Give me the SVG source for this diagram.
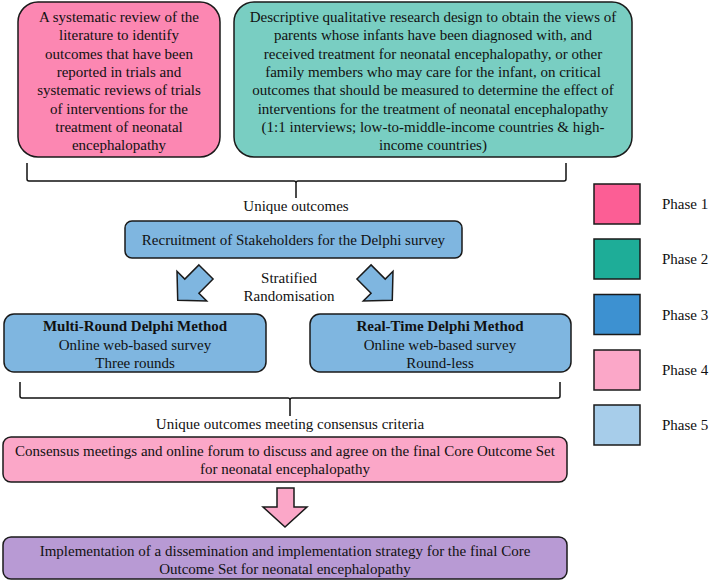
<svg xmlns="http://www.w3.org/2000/svg" width="709" height="581" viewBox="0 0 709 581">
<style>
text{font-family:"Liberation Serif","Times New Roman",serif;font-size:15px;fill:#111;text-anchor:middle}
.box{stroke:#1a1a1a;stroke-width:1.5}
.br{fill:none;stroke:#111;stroke-width:1.5;stroke-linejoin:round}
.leg{text-anchor:start}
.b{font-weight:bold}
</style>
<defs>
<polygon id="diag" points="-10,0 10,0 10,20 21,20 0,40 -21,20 -10,20" stroke="#1a1a1a" stroke-width="1.5" fill="#7FB6E0" stroke-linejoin="miter"/>
</defs>
<rect width="709" height="581" fill="#fff"/>

<g id="phase1-review">
<rect class="box" x="18" y="2" width="202" height="155" rx="20" fill="#FC87B2"/>
<text x="119" y="22">A systematic review of the</text>
<text x="119" y="40.3">literature to identify</text>
<text x="119" y="58.6">outcomes that have been</text>
<text x="119" y="77">reported in trials and</text>
<text x="119" y="95.3">systematic reviews of trials</text>
<text x="119" y="113.6">of interventions for the</text>
<text x="119" y="132">treatment of neonatal</text>
<text x="119" y="150.3">encephalopathy</text>
</g>

<g id="phase2-qualitative">
<rect class="box" x="234" y="2" width="398" height="155" rx="20" fill="#79CEC2"/>
<text x="433" y="22">Descriptive qualitative research design to obtain the views of</text>
<text x="433" y="40.3">parents whose infants have been diagnosed with, and</text>
<text x="433" y="58.6">received treatment for neonatal encephalopathy, or other</text>
<text x="433" y="77">family members who may care for the infant, on critical</text>
<text x="433" y="95.3">outcomes that should be measured to determine the effect of</text>
<text x="433" y="113.6">interventions for the treatment of neonatal encephalopathy</text>
<text x="433" y="132">(1:1 interviews; low-to-middle-income countries &amp; high-</text>
<text x="433" y="150.3">income countries)</text>
</g>

<g id="connectors">
<path class="br" d="M27,163 V179 Q27,181 29,181 H294 Q296,181 296,183 V198 M296,183 Q296,181 298,181 H564 Q566,181 566,179 V163"/>
<path class="br" d="M20,382 V396 Q20,398 22,398 H288 Q290,398 290,400 V416 M290,400 Q290,398 292,398 H558 Q560,398 560,396 V382"/>
<use href="#diag" transform="translate(206,272) rotate(45)"/>
<use href="#diag" transform="translate(364,272) rotate(-45)"/>
<polygon points="277,488 294,488 294,507 307,507 285,527 263,507 277,507" stroke="#1a1a1a" stroke-width="1.5" fill="#FBA7C8"/>
</g>

<g id="label-unique">
<text x="296" y="211">Unique outcomes</text>
</g>

<g id="recruitment">
<rect class="box" x="125" y="221" width="337" height="37" rx="7" fill="#7FB6E0"/>
<text x="293.5" y="245">Recruitment of Stakeholders for the Delphi survey</text>
</g>

<g id="label-randomisation">
<text x="289" y="283">Stratified</text>
<text x="289" y="301">Randomisation</text>
</g>

<g id="multi-round">
<rect class="box" x="4" y="314" width="262" height="58" rx="10" fill="#7FB6E0"/>
<text class="b" x="135" y="331">Multi-Round Delphi Method</text>
<text x="135" y="349.5">Online web-based survey</text>
<text x="135" y="367.5">Three rounds</text>
</g>

<g id="real-time">
<rect class="box" x="310" y="314" width="261" height="58" rx="10" fill="#7FB6E0"/>
<text class="b" x="440" y="331">Real-Time Delphi Method</text>
<text x="440" y="349.5">Online web-based survey</text>
<text x="440" y="367.5">Round-less</text>
</g>

<g id="label-consensus">
<text x="290" y="429">Unique outcomes meeting consensus criteria</text>
</g>

<g id="consensus">
<rect class="box" x="3" y="437" width="564" height="45" rx="8" fill="#FBA7C8"/>
<text x="285" y="456">Consensus meetings and online forum to discuss and agree on the final Core Outcome Set</text>
<text x="285" y="474">for neonatal encephalopathy</text>
</g>

<g id="implementation">
<rect class="box" x="3" y="537" width="564" height="42" rx="8" fill="#B89AD4"/>
<text x="285" y="556">Implementation of a dissemination and implementation strategy for the final Core</text>
<text x="285" y="574">Outcome Set for neonatal encephalopathy</text>
</g>

<g id="legend">
<rect class="box" x="594" y="184" width="46" height="40" fill="#FC5E95"/>
<text class="leg" x="662" y="209">Phase 1</text>
<rect class="box" x="594" y="239" width="46" height="40" fill="#1EAD98"/>
<text class="leg" x="662" y="264">Phase 2</text>
<rect class="box" x="594" y="294.5" width="46" height="40" fill="#3D91D1"/>
<text class="leg" x="662" y="319.5">Phase 3</text>
<rect class="box" x="594" y="350" width="46" height="40" fill="#FBA7C8"/>
<text class="leg" x="662" y="375">Phase 4</text>
<rect class="box" x="594" y="405" width="46" height="40" fill="#A7CDEA"/>
<text class="leg" x="662" y="430">Phase 5</text>
</g>
</svg>
